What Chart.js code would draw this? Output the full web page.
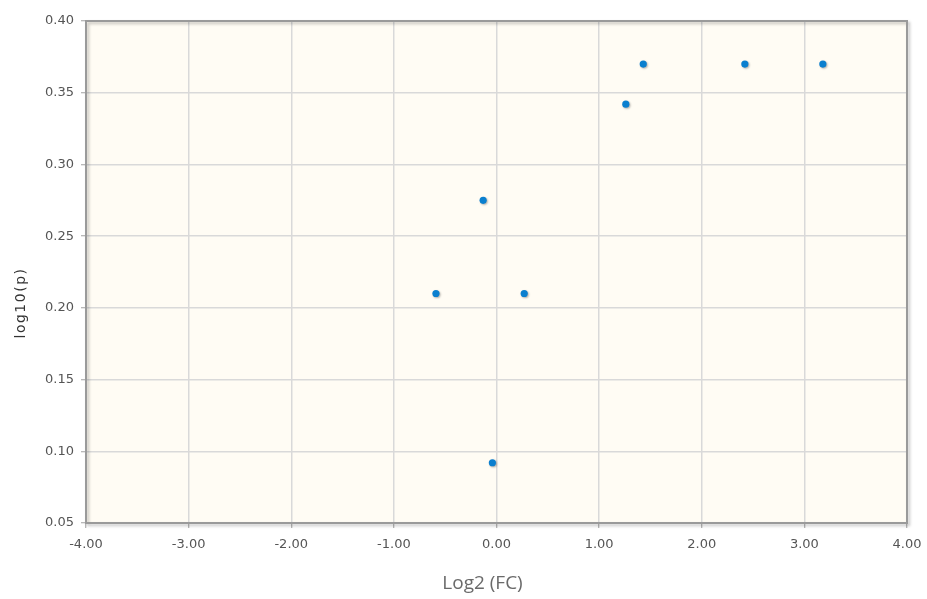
<!DOCTYPE html>
<html>
<head>
<meta charset="utf-8">
<title>Volcano plot</title>
<script src="https://cdn.jsdelivr.net/npm/chart.js@4.4.1/dist/chart.umd.min.js"></script>
<style>
  html, body { margin: 0; padding: 0; background: #fff; }
  #wrap { width: 927px; height: 599px; }
</style>
</head>
<body>
<div id="wrap"><canvas id="plot" width="927" height="599"></canvas></div>
<script>
// fold change (log2) and p value (log10) for each gene
const log2FC = [-0.59, -0.13, 0.27, -0.04, 1.26, 1.43, 2.42, 3.18];
const log10P = [0.21, 0.275, 0.21, 0.092, 0.342, 0.37, 0.37, 0.37];

const xRange = [-4, 4, 1];
const yRange = [0.05, 0.4, 0.05];

const xTitle = 'Log2 (FC)';
const yTitle = 'log10(p)';

const points = log2FC.map((x, i) => ({ x: x, y: log10P[i] }));

const tickFont = { family: 'DejaVu Sans', size: 13 };

// cream plot background and a grey frame with a soft drop shadow
const plotFrame = {
  id: 'plotFrame',
  beforeDraw(chart) {
    const { ctx, chartArea: a } = chart;
    ctx.save();
    ctx.fillStyle = '#fffcf4';
    ctx.fillRect(a.left, a.top, a.right - a.left, a.bottom - a.top);
    ctx.restore();
  },
  beforeDatasetsDraw(chart) {
    const { ctx, chartArea: a } = chart;
    ctx.save();
    ctx.strokeStyle = '#9a9a9a';
    ctx.lineWidth = 2;
    ctx.shadowColor = 'rgba(0,0,0,0.25)';
    ctx.shadowOffsetX = 2;
    ctx.shadowOffsetY = 2;
    ctx.shadowBlur = 3;
    ctx.strokeRect(a.left, a.top, a.right - a.left, a.bottom - a.top);
    ctx.restore();
  },
  beforeDatasetDraw(chart) {
    const ctx = chart.ctx;
    ctx.save();
    ctx.shadowColor = 'rgba(0,0,0,0.3)';
    ctx.shadowOffsetX = 1;
    ctx.shadowOffsetY = 1;
    ctx.shadowBlur = 2;
  },
  afterDatasetDraw(chart) {
    chart.ctx.restore();
  }
};

// axis titles: x title under the tick labels, y title spaced out and rotated
const axisTitles = {
  id: 'axisTitles',
  afterDraw(chart) {
    const { ctx, chartArea: a, width } = chart;
    ctx.save();
    ctx.textAlign = 'center';
    ctx.textBaseline = 'middle';

    ctx.fillStyle = '#6a6a6a';
    ctx.font = '19px "Open Sans"';
    ctx.fillText(xTitle, (width + a.left) / 2 - 24, a.bottom + 61);

    ctx.translate(21, (a.top + a.bottom) / 2 + 31);
    ctx.rotate(-Math.PI / 2);
    ctx.fillStyle = '#333';
    ctx.font = '14px "DejaVu Sans"';
    ctx.letterSpacing = '1.5px';
    ctx.fillText(yTitle, 0, 0);
    ctx.restore();
  }
};

new Chart(document.getElementById('plot'), {
  type: 'scatter',
  data: {
    datasets: [{
      label: 'genes',
      data: points,
      backgroundColor: '#0a7fcf',
      borderColor: '#0a7fcf',
      pointRadius: 3.6,
      borderWidth: 0
    }]
  },
  plugins: [plotFrame, axisTitles],
  options: {
    responsive: false,
    animation: false,
    layout: { padding: { top: 21, right: 20, left: 0, bottom: 0 } },
    plugins: {
      legend: { display: false },
      tooltip: { enabled: false }
    },
    scales: {
      x: {
        type: 'linear',
        min: xRange[0],
        max: xRange[1],
        afterFit(scale) {
          scale.height = 76;
          scale.paddingLeft = 0;
          scale.paddingRight = 0;
        },
        border: { display: false },
        grid: {
          color: '#d9d9d9',
          lineWidth: 1.5,
          tickColor: '#a0a0a0',
          tickLength: 5,
          tickWidth: 1
        },
        ticks: {
          stepSize: xRange[2],
          color: '#555',
          font: tickFont,
          padding: 9,
          callback: v => v.toFixed(2)
        }
      },
      y: {
        type: 'linear',
        min: yRange[0],
        max: yRange[1],
        afterFit(scale) { scale.width = 86; },
        border: { display: false },
        grid: {
          color: '#d9d9d9',
          lineWidth: 1.5,
          tickColor: '#a0a0a0',
          tickLength: 5,
          tickWidth: 1
        },
        ticks: {
          stepSize: yRange[2],
          color: '#555',
          font: tickFont,
          padding: 7,
          callback: v => v.toFixed(2)
        }
      }
    }
  }
});
</script>
</body>
</html>
